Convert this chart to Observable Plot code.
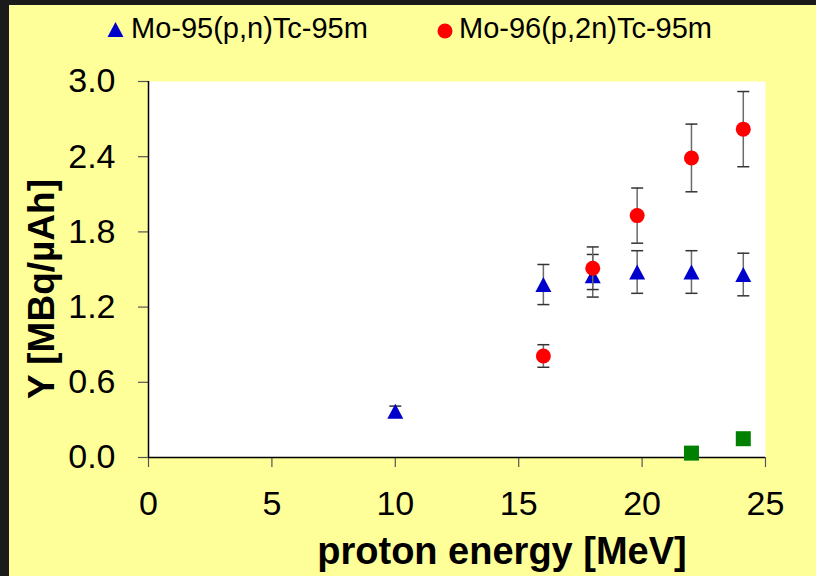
<!DOCTYPE html>
<html>
<head>
<meta charset="utf-8">
<script src="https://cdn.jsdelivr.net/npm/d3@7"></script>
<script src="https://cdn.jsdelivr.net/npm/@observablehq/plot@0.6"></script>
<style>
  html, body { margin: 0; padding: 0; background: #1b1b1b; }
  #wrap { position: relative; width: 816px; height: 576px; background: #1b1b1b; overflow: hidden; }
  #panel { position: absolute; left: 9px; top: 5px; width: 807px; height: 571px; background: #ffff99; }
  #legend { position: absolute; left: 0; top: 0; }
  #chart { position: absolute; left: 0; top: 0; }
</style>
</head>
<body>
<div id="wrap"><div id="panel"><div id="chart"></div><svg id="legend" width="807" height="60"></svg></div></div>
<script>
// ---- data ----
const seriesNames = ["Mo-95(p,n)Tc-95m", "Mo-96(p,2n)Tc-95m"];

const energyMo95 = [10, 16, 18, 19.8, 22, 24.1];
const yieldMo95  = [0.37, 1.38, 1.45, 1.48, 1.48, 1.46];
const errMo95    = [0.04, 0.16, 0.17, 0.17, 0.17, 0.17];

const energyMo96 = [16, 18, 19.8, 22, 24.1];
const yieldMo96  = [0.81, 1.51, 1.93, 2.39, 2.62];
const errMo96    = [0.09, 0.17, 0.22, 0.27, 0.30];

const energyThird = [22, 24.1];
const yieldThird  = [0.035, 0.15];

const xTicks = [0, 5, 10, 15, 20, 25];
const yTicks = [0, 0.6, 1.2, 1.8, 2.4, 3.0];
const xLabel = "proton energy [MeV]";
const yLabel = "Y [MBq/µAh]";

// ---- tables ----
const mo95 = energyMo95.map((x, i) => ({x, y: yieldMo95[i], e: errMo95[i]}));
const mo96 = energyMo96.map((x, i) => ({x, y: yieldMo96[i], e: errMo96[i]}));
const third = energyThird.map((x, i) => ({x, y: yieldThird[i]}));
const caps = rows => rows.flatMap(d => [{x: d.x, y: d.y - d.e}, {x: d.x, y: d.y + d.e}]);

const FONT = "'Liberation Sans', Arial, Helvetica, sans-serif";
const BLUE = "#0000cc", RED = "#ff0000", GREEN = "#008000", ERR = "#6a6a6a";

const triSym = {draw(ctx) { ctx.moveTo(0, -7.5); ctx.lineTo(8, 7.5); ctx.lineTo(-8, 7.5); ctx.closePath(); }};
const sqSym = {draw(ctx) { ctx.rect(-7.5, -7.5, 15, 15); }};
const capSym = {draw(ctx) { ctx.moveTo(-6, 0); ctx.lineTo(6, 0); }};

const errorMarks = (rows) => [
  Plot.ruleX(rows, {x: "x", y1: d => d.y - d.e, y2: d => d.y + d.e, stroke: ERR, strokeWidth: 1.5}),
  Plot.dot(caps(rows), {x: "x", y: "y", symbol: capSym, stroke: "#333", strokeWidth: 1.5, fill: "none"})
];

const chart = Plot.plot({
  width: 807,
  height: 571,
  marginLeft: 139,
  marginRight: 51,
  marginTop: 76,
  marginBottom: 119,
  style: {background: "transparent", fontFamily: FONT, color: "black", overflow: "visible"},
  x: {domain: [0, 25]},
  y: {domain: [0, 3]},
  marks: [
    Plot.frame({fill: "white", stroke: "none"}),
    Plot.axisY({ticks: yTicks, tickFormat: d => d.toFixed(1), tickSize: 10, tickPadding: 23, fontSize: 34, label: null, stroke: "#555", strokeWidth: 1.2}),
    Plot.axisX({ticks: xTicks, tickFormat: d => String(d), tickSize: 10, tickPadding: 23, fontSize: 34, label: null, stroke: "#555", strokeWidth: 1.2}),
    Plot.ruleX([0], {stroke: "black", strokeWidth: 1.5}),
    Plot.ruleY([0], {stroke: "black", strokeWidth: 1.5}),
    ...errorMarks(mo95),
    Plot.dot(mo95, {x: "x", y: "y", symbol: triSym, fill: BLUE, stroke: "none"}),
    ...errorMarks(mo96),
    Plot.dot(mo96, {x: "x", y: "y", r: 7.5, fill: RED, stroke: "none"}),
    Plot.dot(third, {x: "x", y: "y", symbol: sqSym, fill: GREEN, stroke: "none"}),
    Plot.text([xLabel], {text: d => d, frameAnchor: "bottom", lineAnchor: "bottom", textAnchor: "middle", dx: 45, dy: 106, fontSize: 38, fontWeight: "bold", fill: "black"}),
    Plot.text([yLabel], {text: d => d, frameAnchor: "left", rotate: -90, lineAnchor: "bottom", textAnchor: "middle", dx: -94.5, dy: 19.5, fontSize: 37, fontWeight: "bold", fill: "black"})
  ]
});
document.getElementById("chart").appendChild(chart);

// ---- legend ----
const leg = d3.select("#legend");
const legendItems = [
  {name: seriesNames[0], color: BLUE, sym: triSym, cx: 106.5, cy: 24.5, tx: 122},
  {name: seriesNames[1], color: RED, sym: d3.symbolCircle, cx: 436, cy: 26, tx: 450}
];
legendItems.forEach(it => {
  const size = it.sym === d3.symbolCircle ? Math.PI * 7.5 * 7.5 : 0;
  leg.append("path")
    .attr("transform", `translate(${it.cx},${it.cy})`)
    .attr("d", d3.symbol(it.sym, size)())
    .attr("fill", it.color);
  leg.append("text")
    .attr("x", it.tx).attr("y", 33.3)
    .attr("font-family", FONT).attr("font-size", 29)
    .attr("fill", "black")
    .text(it.name);
});
</script>
</body>
</html>
